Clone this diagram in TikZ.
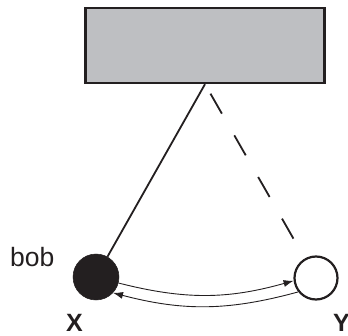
\documentclass[tikz,border=0pt]{standalone}
\usepackage{fontspec}
\setmainfont{Liberation Sans}
\usetikzlibrary{arrows.meta}
\definecolor{ink}{RGB}{35,31,32}
\definecolor{boxgray}{RGB}{190,191,194}
\begin{document}
\begin{tikzpicture}[x=1pt,y=1pt,
  boxstyle/.style={draw=ink,fill=boxgray,line width=2.5pt,minimum width=239pt,minimum height=75pt,inner sep=0pt},
  massfull/.style={circle,fill=ink,draw=ink,line width=0.5pt,minimum size=46pt,inner sep=0pt},
  massempty/.style={circle,draw=ink,fill=white,line width=2.2pt,minimum size=43pt,inner sep=0pt},
  stringline/.style={draw=ink,line width=1.8pt},
  swingarrow/.style={draw=ink,line width=0.9pt,-{Latex[length=10pt,width=7pt]}},
  lbl/.style={inner sep=0pt,text=ink}
]
\useasboundingbox (0,0) rectangle (348,335);
\node[boxstyle] (box) at (205,289.6) {};
\node[massfull] (bob) at (96,58) {};
\node[massempty] (ycirc) at (316,57) {};
\draw[stringline] (box.south) -- (bob);
\draw[stringline,dash pattern=on 23pt off 25pt,dash phase=37pt] (box.south) -- (ycirc);
\draw[swingarrow] (bob.-15) to[bend right=15] (ycirc.187);
\draw[swingarrow] (ycirc.218) to[bend left=15] (bob.-43);
\node[lbl,anchor=base west,font=\fontsize{26.5}{30}\selectfont] (boblabel) at (10,69) {bob};
\node[lbl,anchor=base west,font=\fontsize{25}{28}\selectfont\bfseries] (xlabel) at (66,4) {X};
\node[lbl,anchor=base west,font=\fontsize{25}{28}\selectfont\bfseries] (ylabel) at (333,4) {Y};
\end{tikzpicture}
\end{document}
